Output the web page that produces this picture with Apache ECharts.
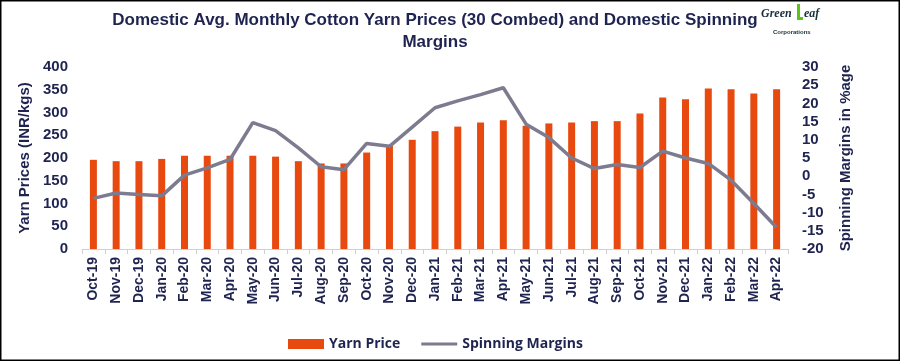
<!DOCTYPE html>
<html>
<head>
<meta charset="utf-8">
<script src="https://cdn.jsdelivr.net/npm/echarts@6/dist/echarts.min.js"></script>
<style>html,body{margin:0;padding:0;background:#fff}#c{width:900px;height:361px}</style>
</head>
<body>
<div id="c"></div>
<script>
const categories = ['Oct-19','Nov-19','Dec-19','Jan-20','Feb-20','Mar-20','Apr-20','May-20','Jun-20','Jul-20','Aug-20','Sep-20','Oct-20','Nov-20','Dec-20','Jan-21','Feb-21','Mar-21','Apr-21','May-21','Jun-21','Jul-21','Aug-21','Sep-21','Oct-21','Nov-21','Dec-21','Jan-22','Feb-22','Mar-22','Apr-22'];
const yarnPrice = [196,193,193,198,205,205,205,205,203,193,188,188,212,227,240,259,269,278,283,271,276,278,281,281,298,333,329,353,351,342,351];
const spinningMargins = [-6.1,-4.6,-5.0,-5.4,0.3,2.3,4.6,14.7,12.5,7.8,2.6,1.8,9.0,8.2,13.5,18.8,20.7,22.4,24.3,14.3,10.6,5.0,2.1,3.2,2.4,6.9,5.0,3.5,-1.1,-7.5,-14.1];
const leftTicks = {min:0, max:400, interval:50};
const rightTicks = {min:-20, max:30, interval:5};

const navy = '#1f2350';
const chart = echarts.init(document.getElementById('c'), null, {renderer:'canvas'});
chart.setOption({
  animation:false,
  backgroundColor:'#fff',
  title:{
    text:'Domestic Avg. Monthly Cotton Yarn Prices (30 Combed) and Domestic Spinning\nMargins',
    left:430, top:4, textAlign:'center',
    textStyle:{fontFamily:'Liberation Sans Narrow, Liberation Sans, sans-serif', fontSize:17, fontWeight:'bold', color:navy, lineHeight:22}
  },
  graphic:[
    {type:'rect', shape:{x:0.5,y:0.5,width:899,height:360}, style:{fill:'none', stroke:'#000', lineWidth:2}, z:100},
    {type:'text', left:761, top:8, style:{text:'Green', font:'italic bold 12px "Liberation Serif", serif', fill:'#1a2f3a'}},
    {type:'rect', shape:{x:797,y:4,width:3,height:15}, style:{fill:'#5cc419'}},
    {type:'rect', shape:{x:797,y:17,width:6,height:3}, style:{fill:'#5cc419'}},
    {type:'text', left:804, top:8, style:{text:'eaf', font:'italic bold 12px "Liberation Serif", serif', fill:'#1a2f3a'}},
    {type:'text', left:773, top:29, style:{text:'Corporations', font:'bold 6px "Liberation Sans", sans-serif', fill:'#1a2f3a'}}
  ],
  legend:{
    bottom:5, left:283, itemGap:21, itemWidth:36, itemHeight:10,
    textStyle:{fontFamily:'Open Sans, sans-serif', fontSize:14, fontWeight:'bold', color:navy},
    data:[
      {name:'Yarn Price', icon:'rect'},
      {name:'Spinning Margins', icon:'path://M0,0 L36,0 L36,0.01 Z M0,3.5 L36,3.5 L36,6.5 L0,6.5 Z M0,10 L36,10 L36,10.01 Z'}
    ]
  },
  grid:{left:82, right:112, top:67, bottom:112},
  xAxis:{
    type:'category', data:categories, boundaryGap:true,
    axisLine:{lineStyle:{color:'#d0d0d0', width:1}},
    axisTick:{show:true, alignWithLabel:false, lineStyle:{color:'#d0d0d0'}},
    axisLabel:{rotate:90, interval:0, fontFamily:'Liberation Sans, sans-serif', fontSize:14, fontWeight:'bold', color:navy, margin:8}
  },
  yAxis:[
    {type:'value', min:leftTicks.min, max:leftTicks.max, interval:leftTicks.interval,
     name:'Yarn Prices (INR/kgs)', nameLocation:'middle', nameGap:50, nameRotate:90,
     nameTextStyle:{fontFamily:'Liberation Sans, sans-serif', fontSize:15, fontWeight:'bold', color:navy},
     axisLine:{show:false}, axisTick:{show:false}, splitLine:{show:false},
     axisLabel:{fontFamily:'Liberation Sans, sans-serif', fontSize:15, fontWeight:'bold', color:navy, margin:14}},
    {type:'value', min:rightTicks.min, max:rightTicks.max, interval:rightTicks.interval,
     name:'Spinning Margins in %age', nameLocation:'middle', nameGap:50, nameRotate:90,
     nameTextStyle:{fontFamily:'Liberation Sans, sans-serif', fontSize:15, fontWeight:'bold', color:navy},
     axisLine:{show:false}, axisTick:{show:false}, splitLine:{show:false},
     axisLabel:{fontFamily:'Liberation Sans, sans-serif', fontSize:15, fontWeight:'bold', color:navy, margin:14}}
  ],
  series:[
    {name:'Yarn Price', type:'bar', data:yarnPrice, barWidth:7, yAxisIndex:0, itemStyle:{color:'#e8490f'}},
    {name:'Spinning Margins', type:'line', data:spinningMargins, yAxisIndex:1, symbol:'none', smooth:false,
     lineStyle:{color:'#7d7b8f', width:3.5}, itemStyle:{color:'#7d7b8f'}}
  ]
});
</script>
</body>
</html>
